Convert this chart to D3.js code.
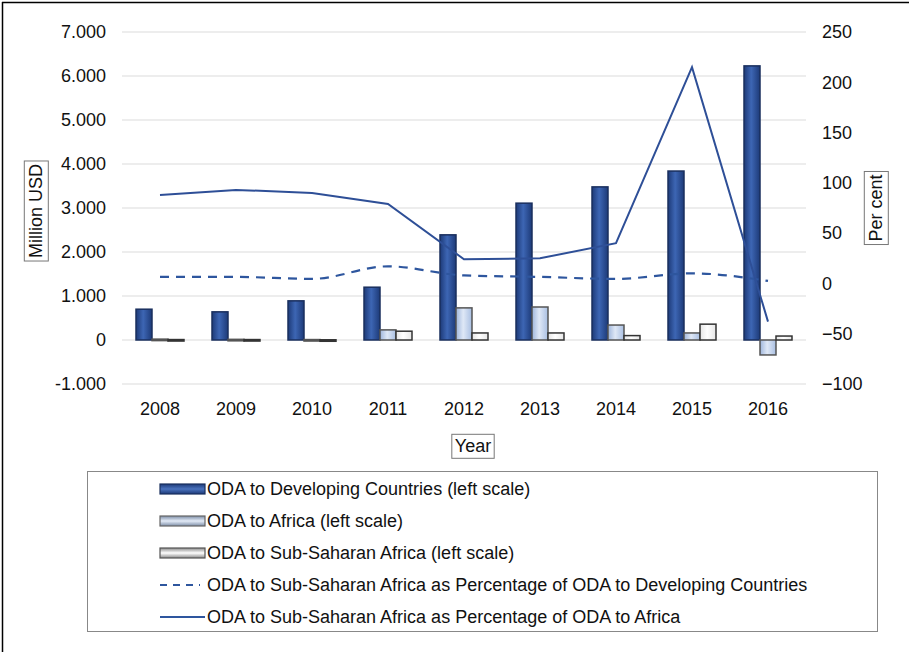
<!DOCTYPE html>
<html>
<head>
<meta charset="utf-8">
<script src="https://cdn.jsdelivr.net/npm/d3@7"></script>
<style>
  body { margin: 0; background: #fff; }
  text { font-family: "Liberation Sans", Arial, sans-serif; fill: #111; }
</style>
</head>
<body>
<svg id="chart" width="909" height="652"></svg>
<script>
// data
const years = ['2008', '2009', '2010', '2011', '2012', '2013', '2014', '2015', '2016'];
const odaDeveloping = [700, 640, 890, 1200, 2390, 3110, 3480, 3840, 6230];
const odaAfrica = [20, 15, 10, 230, 730, 750, 340, 160, -340];
const odaSSA = [10, 10, 5, 200, 160, 160, 100, 360, 90];
const pctOfDeveloping = [6.5, 6.5, 4.5, 17, 8, 6.5, 4.5, 10, 2.5];
const pctOfAfrica = [88, 93, 90, 79, 24, 25, 40, 215, -38];
const leftTicks = [-1000, 0, 1000, 2000, 3000, 4000, 5000, 6000, 7000];
const rightTicks = [-100, -50, 0, 50, 100, 150, 200, 250];

const FONT = '"Liberation Sans", Arial, sans-serif';
const svg = d3.select('#chart');

// gradients for the bars
const defs = svg.append('defs');
const grad = (id, stops) => {
  const g = defs.append('linearGradient').attr('id', id).attr('x1', '0%').attr('x2', '100%');
  stops.forEach(([o, c]) => g.append('stop').attr('offset', o).attr('stop-color', c));
};
grad('gDev', [['0%', '#1d3a78'], ['45%', '#3d66b4'], ['100%', '#1d3a78']]);
grad('gAfr', [['0%', '#9fb6dc'], ['45%', '#dfe8f6'], ['100%', '#a9bfe2']]);
grad('gSsa', [['0%', '#e6e6e6'], ['45%', '#ffffff'], ['100%', '#e6e6e6']]);
const gradV = (id, stops) => {
  const g = defs.append('linearGradient').attr('id', id).attr('x1', '0%').attr('x2', '0%').attr('y1', '0%').attr('y2', '100%');
  stops.forEach(([o, c]) => g.append('stop').attr('offset', o).attr('stop-color', c));
};
gradV('lDev', [['0%', '#1d3a78'], ['50%', '#4a72bd'], ['100%', '#1d3a78']]);
gradV('lAfr', [['0%', '#7d8ea8'], ['50%', '#e3ebf7'], ['100%', '#7d8ea8']]);
gradV('lSsa', [['0%', '#8a8a8a'], ['50%', '#ffffff'], ['100%', '#8a8a8a']]);

// outer frame (left & top visible)
svg.append('line').attr('x1', 2.5).attr('x2', 2.5).attr('y1', 2).attr('y2', 652).attr('stroke', '#000').attr('stroke-width', 1.5);
svg.append('line').attr('x1', 2).attr('x2', 909).attr('y1', 2.5).attr('y2', 2.5).attr('stroke', '#000').attr('stroke-width', 1.5);

// scales
const x = d3.scaleBand().domain(years).range([122, 806]);
const xSub = d3.scaleBand().domain(['dev', 'afr', 'ssa']).range([14, 62]);
const yL = d3.scaleLinear().domain([-1000, 7000]).range([384, 32]);
const yR = d3.scaleLinear().domain([-100, 250]).range([384, 32]);

const fmt = d3.formatLocale({ decimal: ',', thousands: '.', grouping: [3], currency: ['', ''], minus: '-' }).format(',d');

// gridlines
svg.append('g').selectAll('line').data(leftTicks).join('line')
  .attr('x1', 122).attr('x2', 806)
  .attr('y1', d => yL(d)).attr('y2', d => yL(d))
  .attr('stroke', '#dcdcdc').attr('stroke-width', 1.2);

const styleAxis = ax => {
  ax.select('.domain').remove();
  ax.selectAll('text').style('font-size', '18px').style('font-family', FONT).attr('fill', '#111');
};

// left axis
const axL = svg.append('g').attr('transform', 'translate(122,0)')
  .call(d3.axisLeft(yL).tickValues(leftTicks).tickFormat(fmt).tickSize(0).tickPadding(16));
styleAxis(axL);

// right axis
const axR = svg.append('g').attr('transform', 'translate(806,0)')
  .call(d3.axisRight(yR).tickValues(rightTicks).tickFormat(d3.format('d')).tickSize(0).tickPadding(16));
styleAxis(axR);

// bottom axis labels
const axB = svg.append('g').attr('transform', 'translate(0,' + yL(-1000) + ')')
  .call(d3.axisBottom(x).tickSize(0).tickPadding(18));
styleAxis(axB);

// bars
const series = [
  { key: 'dev', vals: odaDeveloping, fill: 'url(#gDev)', stroke: '#1a2f5e' },
  { key: 'afr', vals: odaAfrica, fill: 'url(#gAfr)', stroke: '#555' },
  { key: 'ssa', vals: odaSSA, fill: 'url(#gSsa)', stroke: '#333' }
];
series.forEach(s => {
  svg.append('g').selectAll('rect').data(s.vals).join('rect')
    .attr('x', (d, i) => x(years[i]) + xSub(s.key))
    .attr('width', xSub.bandwidth())
    .attr('y', d => Math.min(yL(d), yL(0)))
    .attr('height', d => Math.max(Math.abs(yL(d) - yL(0)), 1.5))
    .attr('fill', s.fill)
    .attr('stroke', s.stroke)
    .attr('stroke-width', 1.5);
});

// lines
const cx = i => x(years[i]) + x.bandwidth() / 2;
const line = d3.line().x((d, i) => cx(i)).y(d => yR(d));
svg.append('path').datum(pctOfDeveloping).attr('d', line.curve(d3.curveMonotoneX))
  .attr('fill', 'none').attr('stroke', '#2e569e').attr('stroke-width', 2.2).attr('stroke-dasharray', '9,7');
svg.append('path').datum(pctOfAfrica).attr('d', line.curve(d3.curveLinear))
  .attr('fill', 'none').attr('stroke', '#2e4f97').attr('stroke-width', 2);

// axis titles in boxes
const boxLabel = (cxp, cyp, txt, rotate) => {
  const g = svg.append('g').attr('transform', `translate(${cxp},${cyp})` + (rotate ? ' rotate(-90)' : ''));
  const t = g.append('text').attr('text-anchor', 'middle').attr('dy', '0.35em')
    .style('font-size', '18px').text(txt);
  const bb = t.node().getBBox();
  g.insert('rect', 'text').attr('x', bb.x - 3).attr('y', bb.y - 2)
    .attr('width', bb.width + 6).attr('height', bb.height + 4)
    .attr('fill', '#fff').attr('stroke', '#777').attr('stroke-width', 1);
};
boxLabel(36, 211, 'Million USD', true);
boxLabel(876, 208, 'Per cent', true);
boxLabel(473, 446, 'Year', false);

// legend
svg.append('rect').attr('x', 87.5).attr('y', 471.5).attr('width', 790).attr('height', 160)
  .attr('fill', '#fff').attr('stroke', '#888').attr('stroke-width', 1);
const legendItems = [
  { label: 'ODA to Developing Countries (left scale)', type: 'bar', fill: 'url(#lDev)', stroke: '#1a2f5e' },
  { label: 'ODA to Africa (left scale)', type: 'bar', fill: 'url(#lAfr)', stroke: '#666' },
  { label: 'ODA to Sub-Saharan Africa (left scale)', type: 'bar', fill: 'url(#lSsa)', stroke: '#555' },
  { label: 'ODA to Sub-Saharan Africa as Percentage of ODA to Developing Countries', type: 'dash' },
  { label: 'ODA to Sub-Saharan Africa as Percentage of ODA to Africa', type: 'line' }
];
const ly = d3.scalePoint().domain(d3.range(legendItems.length)).range([489, 617]);
const lg = svg.append('g').selectAll('g').data(legendItems).join('g')
  .attr('transform', (d, i) => `translate(0,${ly(i)})`);
lg.filter(d => d.type === 'bar').append('rect')
  .attr('x', 160).attr('y', -5).attr('width', 45).attr('height', 10)
  .attr('fill', d => d.fill).attr('stroke', d => d.stroke).attr('stroke-width', 1.2);
lg.filter(d => d.type !== 'bar').append('line')
  .attr('x1', 160).attr('x2', d => d.type === 'dash' ? 200 : 205).attr('y1', 0).attr('y2', 0)
  .attr('stroke', '#2e569e').attr('stroke-width', 2)
  .attr('stroke-dasharray', d => d.type === 'dash' ? '7,6' : null);
lg.append('text').attr('x', 207).attr('dy', '0.35em')
  .style('font-size', '18px').text(d => d.label);
</script>
</body>
</html>
